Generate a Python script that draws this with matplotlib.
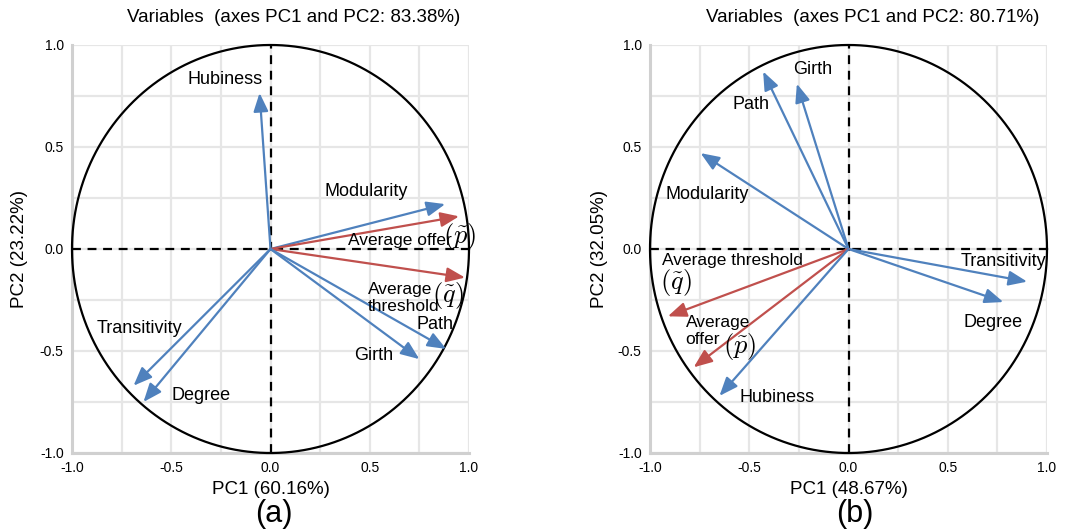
import numpy as np
import matplotlib
matplotlib.use('Agg')
import matplotlib.pyplot as plt

plt.rcParams['font.family'] = ['Liberation Sans', 'DejaVu Sans']
plt.rcParams['mathtext.fontset'] = 'cm'

BLUE = "#4f81bd"
RED = "#c0504d"

# panel (a) loadings
a_names = ["Hubiness", "Modularity", "Average offer", "Average threshold", "Path", "Girth", "Transitivity", "Degree"]
a_pc1 = [-0.055, 0.88, 0.95, 0.98, 0.885, 0.75, -0.69, -0.64]
a_pc2 = [0.765, 0.22, 0.16, -0.14, -0.49, -0.54, -0.67, -0.75]
a_title = "Variables  (axes PC1 and PC2: 83.38%)"
a_xlabel = "PC1 (60.16%)"
a_ylabel = "PC2 (23.22%)"

# panel (b) loadings
b_names = ["Girth", "Path", "Modularity", "Transitivity", "Degree", "Average threshold", "Average offer", "Hubiness"]
b_pc1 = [-0.26, -0.43, -0.745, 0.90, 0.78, -0.91, -0.78, -0.65]
b_pc2 = [0.81, 0.87, 0.47, -0.16, -0.26, -0.33, -0.58, -0.72]
b_title = "Variables  (axes PC1 and PC2: 80.71%)"
b_xlabel = "PC1 (48.67%)"
b_ylabel = "PC2 (32.05%)"

ticks = [-1.0, -0.5, 0.0, 0.5, 1.0]
tick_labels = ["-1.0", "-0.5", "0.0", "0.5", "1.0"]

# label layout: (text, x, y, ha, va, size)
a_labels = [
	("Hubiness", -0.23, 0.83, "center", "center", 13),
	("Modularity", 0.48, 0.28, "center", "center", 13),
	("Average offer", 0.39, 0.04, "left", "center", 12.5),
	(r"$(\tilde{p})$", 0.95, 0.06, "center", "center", 19),
	("Average\nthreshold", 0.49, -0.24, "left", "center", 12.5),
	(r"$(\tilde{q})$", 0.895, -0.23, "center", "center", 19),
	("Path", 0.83, -0.37, "center", "center", 13),
	("Girth", 0.52, -0.52, "center", "center", 13),
	("Transitivity", -0.66, -0.39, "center", "center", 13),
	("Degree", -0.35, -0.72, "center", "center", 13),
]
b_labels = [
	("Girth", -0.18, 0.88, "center", "center", 13),
	("Path", -0.49, 0.71, "center", "center", 13),
	("Modularity", -0.71, 0.265, "center", "center", 13),
	("Average threshold", -0.94, -0.055, "left", "center", 12.5),
	(r"$(\tilde{q})$", -0.87, -0.165, "center", "center", 19),
	("Transitivity", 0.78, -0.06, "center", "center", 13),
	("Degree", 0.73, -0.36, "center", "center", 13),
	("Average\noffer", -0.82, -0.40, "left", "center", 12.5),
	(r"$(\tilde{p})$", -0.55, -0.48, "center", "center", 19),
	("Hubiness", -0.36, -0.73, "center", "center", 13),
]

fig = plt.figure(figsize=(10.84, 5.30), dpi=100)
W, H = 1084.0, 530.0


def draw_panel(rect, names, pc1, pc2, labels, title, title_x, xlabel, ylabel, ylabel_x, letter, letter_x):
	ax = fig.add_axes(rect)
	ax.set_xlim(-1, 1)
	ax.set_ylim(-1, 1)
	ax.set_xticks(ticks)
	ax.set_yticks(ticks)
	ax.set_xticks(np.arange(-1, 1.01, 0.25), minor=True)
	ax.set_yticks(np.arange(-1, 1.01, 0.25), minor=True)
	ax.grid(True, which="both", color="#e6e6e6", lw=1.6, zorder=0)
	ax.set_xticklabels(tick_labels, fontsize=10)
	ax.set_yticklabels(tick_labels, fontsize=10)
	ax.tick_params(which="both", length=0, pad=6)
	for s in ["top", "right"]:
		ax.spines[s].set_visible(False)
	for s in ["left", "bottom"]:
		ax.spines[s].set_color("#d0d0d0")
		ax.spines[s].set_linewidth(2.2)

	t = np.linspace(0, 2 * np.pi, 400)
	ax.plot(np.cos(t), np.sin(t), color="black", lw=1.6, clip_on=False, zorder=3)
	ax.axhline(0, color="black", lw=1.6, ls=(0, (4, 3)), zorder=3)
	ax.axvline(0, color="black", lw=1.6, ls=(0, (4, 3)), zorder=3)

	for name, x, y in zip(names, pc1, pc2):
		color = RED if name.startswith("Average") else BLUE
		ax.annotate("", xy=(x, y), xytext=(0, 0),
			arrowprops=dict(arrowstyle="-|>,head_length=0.8,head_width=0.32", color=color,
				lw=1.6, shrinkA=0, shrinkB=0, mutation_scale=14),
			annotation_clip=False, zorder=4)

	for text, x, y, ha, va, size in labels:
		ax.text(x, y, text, ha=ha, va=va, fontsize=size, color="black", zorder=5,
			linespacing=1.15)

	fig.text(title_x / W, 1 - 17 / H, title, ha="center", va="center", fontsize=13.5)
	ax.set_xlabel(xlabel, fontsize=13.5, labelpad=4)
	fig.text(ylabel_x / W, 1 - 249 / H, ylabel, rotation=90, ha="center", va="center", fontsize=13.5)
	fig.text(letter_x / W, 1 - 514 / H, letter, ha="center", va="center", fontsize=22)
	return ax


draw_panel([72 / W, 77 / H, 397 / W, 408 / H], a_names, a_pc1, a_pc2, a_labels,
	a_title, 294, a_xlabel, a_ylabel, 20, "(a)", 274)
draw_panel([650 / W, 77 / H, 397 / W, 408 / H], b_names, b_pc1, b_pc2, b_labels,
	b_title, 873, b_xlabel, b_ylabel, 600, "(b)", 855)

plt.savefig("out.png", dpi=100)
